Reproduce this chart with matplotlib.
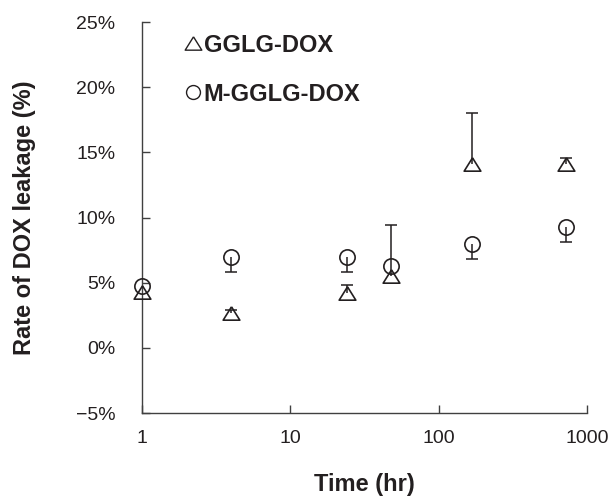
'''

drug leakage vs time

'''
import numpy as np
import matplotlib
matplotlib.use('Agg')
import matplotlib.pyplot as plt
from matplotlib.ticker import FuncFormatter
from matplotlib.lines import Line2D

# data
time_hr = np.array([1, 4, 24, 48, 168, 720])
gglg = np.array([4.3, 2.7, 4.2, 5.5, 14.1, 14.1])
gglg_err_up = np.array([0.0, 0.2, 0.6, 3.9, 3.9, 0.5])
mgglg = np.array([4.75, 6.95, 6.95, 6.25, 8.0, 9.3])
mgglg_err_dn = np.array([0.0, 1.15, 1.15, 0.0, 1.2, 1.15])

y_ticks = [-5, 0, 5, 10, 15, 20, 25]
x_ticks = [1, 10, 100, 1000]
labels = ['GGLG-DOX', 'M-GGLG-DOX']

txt_c = '#231f20'
ln_c = '#231f20'
tri = [(0, 0.8), (-1, -0.8), (1, -0.8), (0, 0.8)]

plt.rcParams['font.family'] = ['Liberation Sans', 'DejaVu Sans']


def PlotLeakage():
    fig = plt.figure(figsize=(6.11, 4.97), dpi=100)
    sub = fig.add_axes([0.2324, 0.169, 0.7283, 0.7867])

    # error bars (one sided)
    up_idx = gglg_err_up > 0
    sub.vlines(time_hr[up_idx], gglg[up_idx], (gglg + gglg_err_up)[up_idx],
               colors=ln_c, lw=1.1, zorder=2)
    sub.plot(time_hr[up_idx], (gglg + gglg_err_up)[up_idx], ls='none',
             marker='_', ms=9, mew=1.1, c=ln_c, zorder=2)
    dn_idx = mgglg_err_dn > 0
    sub.vlines(time_hr[dn_idx], mgglg[dn_idx], (mgglg - mgglg_err_dn)[dn_idx],
               colors=ln_c, lw=1.1, zorder=2)
    sub.plot(time_hr[dn_idx], (mgglg - mgglg_err_dn)[dn_idx], ls='none',
             marker='_', ms=9, mew=1.1, c=ln_c, zorder=2)

    # markers
    sub.plot(time_hr, gglg, ls='none', marker=tri, ms=12, mfc='none',
             mec=ln_c, mew=1.2, zorder=3, clip_on=False)
    sub.plot(time_hr, mgglg, ls='none', marker='o', ms=11, mfc='none',
             mec=ln_c, mew=1.2, zorder=3, clip_on=False)

    # axes
    sub.set_xscale('log')
    sub.set_xlim([1, 1000])
    sub.set_xticks(x_ticks)
    sub.set_xticklabels([str(x) for x in x_ticks])
    sub.xaxis.set_minor_locator(matplotlib.ticker.NullLocator())
    sub.set_ylim([-5, 25])
    sub.set_yticks(y_ticks)
    sub.yaxis.set_major_formatter(
        FuncFormatter(lambda v, p: ('%d%%' % v).replace('-', '\u2212')))

    for s in ['top', 'right']:
        sub.spines[s].set_visible(False)
    for s in ['left', 'bottom']:
        sub.spines[s].set_color('#404040')
        sub.spines[s].set_linewidth(1.0)

    sub.tick_params(axis='y', direction='in', length=6, width=1.0,
                    color='#404040', pad=19, labelsize=14, labelcolor=txt_c)
    sub.tick_params(axis='x', direction='in', length=6, width=1.0,
                    color='#404040', pad=12, labelsize=14, labelcolor=txt_c)

    sub.set_xlabel('Time (hr)', fontsize=17, fontweight='bold', color=txt_c,
                   labelpad=19)
    sub.set_ylabel('Rate of DOX leakage (%)', fontsize=17, fontweight='bold',
                   color=txt_c, labelpad=29)

    # legend
    handles = [Line2D([], [], ls='none', marker=tri, ms=12, mfc='none',
                      mec=ln_c, mew=1.0),
               Line2D([], [], ls='none', marker='o', ms=10, mfc='none',
                      mec=ln_c, mew=1.0)]
    leg = sub.legend(handles, labels, loc='upper left',
                     bbox_to_anchor=(0.099, 0.97), frameon=False, borderpad=0,
                     borderaxespad=0, handlelength=0.6, handletextpad=0.15,
                     labelspacing=1.1, numpoints=1,
                     prop={'size': 17, 'weight': 'bold'})
    for t in leg.get_texts():
        t.set_color(txt_c)

    fig.savefig('out.png', dpi=100)
    plt.close()
    return None


if __name__ == '__main__':
    PlotLeakage()
